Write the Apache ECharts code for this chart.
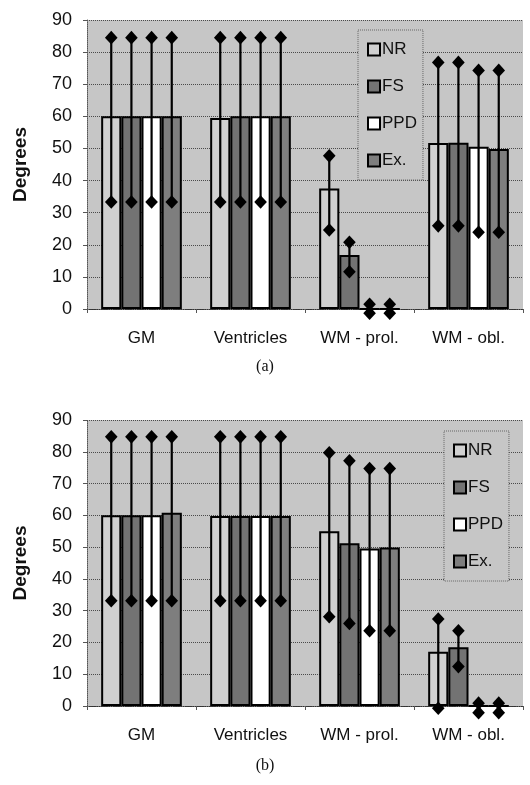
<!DOCTYPE html>
<html>
<head>
<meta charset="utf-8">
<script src="https://cdn.jsdelivr.net/npm/echarts@6/dist/echarts.min.js"></script>
<style>
html,body{margin:0;padding:0;background:#fff;}
#chart{width:530px;height:785px;}
</style>
</head>
<body>
<div id="chart"></div>
<script>
// ---------- data ----------
var categories = ['GM', 'Ventricles', 'WM - prol.', 'WM - obl.'];
var seriesNames = ['NR', 'FS', 'PPD', 'Ex.'];
var yTicks = [0, 10, 20, 30, 40, 50, 60, 70, 80, 90];

// panel (a): bar means, error-bar upper and lower ends
var meanA_NR  = [60, 59.5, 37.5, 51.7];
var meanA_FS  = [60, 60, 16.8, 51.8];
var meanA_PPD = [60, 60, 0, 50.5];
var meanA_Ex  = [60, 60, 0, 49.8];
var highA_NR  = [84.5, 84.5, 47.7, 76.8];
var highA_FS  = [84.5, 84.5, 20.8, 76.8];
var highA_PPD = [84.5, 84.5, 1.5, 74.3];
var highA_Ex  = [84.5, 84.5, 1.5, 74.3];
var lowA_NR   = [33.3, 33.3, 24.6, 25.9];
var lowA_FS   = [33.3, 33.3, 11.6, 25.9];
var lowA_PPD  = [33.3, 33.3, -1.3, 23.9];
var lowA_Ex   = [33.3, 33.3, -1.3, 23.9];

// panel (b)
var meanB_NR  = [60, 59.8, 55.0, 17.1];
var meanB_FS  = [60, 59.8, 51.2, 18.5];
var meanB_PPD = [60, 59.8, 49.6, 0];
var meanB_Ex  = [60.8, 59.8, 49.9, 0];
var highB_NR  = [84.7, 84.7, 79.7, 27.4];
var highB_FS  = [84.7, 84.7, 77.2, 23.7];
var highB_PPD = [84.7, 84.7, 74.7, 0.9];
var highB_Ex  = [84.7, 84.7, 74.7, 0.9];
var lowB_NR   = [33.1, 33.1, 28.1, -0.7];
var lowB_FS   = [33.1, 33.1, 26.0, 12.4];
var lowB_PPD  = [33.1, 33.1, 23.7, -2.1];
var lowB_Ex   = [33.1, 33.1, 23.7, -2.1];

// ---------- styling ----------
var barColors = ['#d0d0d0', '#737373', '#ffffff', '#7e7e7e'];
var plotBg = '#c6c6c6';
var CAT_GAP = 0.26;
var AXIS_FONT = 'Liberation Sans, Arial, sans-serif';

var meansA = [meanA_NR, meanA_FS, meanA_PPD, meanA_Ex];
var highsA = [highA_NR, highA_FS, highA_PPD, highA_Ex];
var lowsA  = [lowA_NR, lowA_FS, lowA_PPD, lowA_Ex];
var meansB = [meanB_NR, meanB_FS, meanB_PPD, meanB_Ex];
var highsB = [highB_NR, highB_FS, highB_PPD, highB_Ex];
var lowsB  = [lowB_NR, lowB_FS, lowB_PPD, lowB_Ex];

function diamond(x, y, r) {
  return { type: 'polygon', shape: { points: [[x, y - r - 0.5], [x + r, y], [x, y + r + 0.5], [x - r, y]] },
           style: { fill: '#000' } };
}

function errSeries(k, gridIdx, highs, lows) {
  var data = categories.map(function (c, i) { return [i, lows[i], highs[i]]; });
  return {
    type: 'custom', xAxisIndex: gridIdx, yAxisIndex: gridIdx, z: 5, clip: false,
    silent: true,
    data: data,
    renderItem: function (params, api) {
      var c = api.value(0);
      var pLo = api.coord([c, api.value(1)]);
      var pHi = api.coord([c, api.value(2)]);
      var band = api.size([1, 0])[0];
      var groupW = band * (1 - CAT_GAP);
      var barW = groupW / 4;
      var x = pLo[0] - groupW / 2 + (k + 0.5) * barW;
      return {
        type: 'group',
        children: [
          { type: 'line', shape: { x1: x, y1: pLo[1], x2: x, y2: pHi[1] }, style: { stroke: '#000', lineWidth: 2.2 } },
          diamond(x, pLo[1], 6.3),
          diamond(x, pHi[1], 6.3)
        ]
      };
    }
  };
}

function barSeries(k, gridIdx, means) {
  return {
    name: seriesNames[k], type: 'bar', xAxisIndex: gridIdx, yAxisIndex: gridIdx,
    data: means, barGap: '0%', barCategoryGap: (CAT_GAP * 100) + '%',
    itemStyle: { color: barColors[k], borderColor: '#000', borderWidth: 2 },
    emphasis: { disabled: true }, z: 2
  };
}

function xAxisFor(gridIdx) {
  return {
    type: 'category', gridIndex: gridIdx, data: categories,
    axisLine: { show: true, lineStyle: { color: '#333', width: 1.2, type: 'dotted' } },
    axisTick: { show: true, length: 4, lineStyle: { color: '#555' } },
    axisLabel: { color: '#111', fontSize: 17, fontFamily: AXIS_FONT, margin: 21 }
  };
}
function yAxisFor(gridIdx) {
  return {
    type: 'value', gridIndex: gridIdx, min: yTicks[0], max: yTicks[yTicks.length - 1], interval: 10,
    name: 'Degrees', nameLocation: 'middle', nameGap: 57, nameRotate: 90,
    nameTextStyle: { fontSize: 19, fontWeight: 'bold', color: '#111', fontFamily: AXIS_FONT },
    axisLine: { show: true, lineStyle: { color: '#555', type: 'dotted' } },
    axisTick: { show: true, length: 4, lineStyle: { color: '#555' } },
    axisLabel: { color: '#111', fontSize: 18, fontFamily: AXIS_FONT, margin: 15 },
    splitLine: { show: true, lineStyle: { color: '#4a4a4a', type: 'dotted', width: 1 } }
  };
}
function legendFor(left, top) {
  return {
    data: seriesNames, orient: 'vertical', left: left, top: top,
    width: 72, padding: [10, 6, 10, 9], itemGap: 18,
    itemWidth: 12, itemHeight: 12, icon: 'rect',
    backgroundColor: plotBg, borderColor: '#666', borderWidth: 1, borderType: 'dotted',
    textStyle: { fontSize: 17, fontFamily: AXIS_FONT, color: '#111', lineHeight: 19, padding: [0, 0, 0, -3] },
    selectedMode: false
  };
}

var series = [];
for (var k = 0; k < 4; k++) series.push(barSeries(k, 0, meansA[k]));
for (var k2 = 0; k2 < 4; k2++) series.push(barSeries(k2, 1, meansB[k2]));
for (var k3 = 0; k3 < 4; k3++) series.push(errSeries(k3, 0, highsA[k3], lowsA[k3]));
for (var k4 = 0; k4 < 4; k4++) series.push(errSeries(k4, 1, highsB[k4], lowsB[k4]));

var chart = echarts.init(document.getElementById('chart'), null, { renderer: 'canvas' });
chart.setOption({
  animation: false,
  backgroundColor: '#fff',
  grid: [
    { left: 87, right: 7, top: 20, height: 289, show: true, backgroundColor: plotBg, borderWidth: 0 },
    { left: 87, right: 7, top: 420, height: 286, show: true, backgroundColor: plotBg, borderWidth: 0 }
  ],
  title: [
    { text: '(a)', left: 'center', top: 354, textStyle: { fontSize: 16, fontWeight: 'normal', fontFamily: 'Liberation Serif, Times New Roman, serif', color: '#111' } },
    { text: '(b)', left: 'center', top: 753, textStyle: { fontSize: 16, fontWeight: 'normal', fontFamily: 'Liberation Serif, Times New Roman, serif', color: '#111' } }
  ],
  legend: [legendFor(358, 30), legendFor(444, 431)],
  xAxis: [xAxisFor(0), xAxisFor(1)],
  yAxis: [yAxisFor(0), yAxisFor(1)],
  series: series
});
</script>
</body>
</html>
